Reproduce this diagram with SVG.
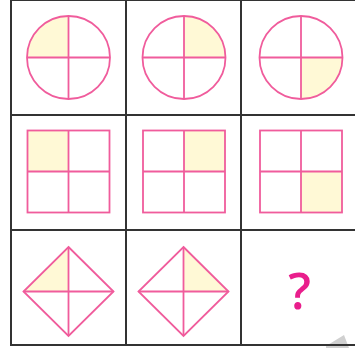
<svg xmlns="http://www.w3.org/2000/svg" width="355" height="348" viewBox="0 0 355 348">
  <style>
    .grid { stroke: #333333; stroke-width: 2; fill: none; }
    .shape { fill: none; stroke: #f05c9c; stroke-width: 1.8; }
    .shade { fill: #fff9d6; stroke: none; }
    .q { font-family: "Open Sans", "Liberation Sans", Arial, sans-serif; font-size: 50px; font-weight: 600; fill: #e91e8c; text-anchor: middle; }
  </style>
  <rect x="0" y="0" width="355" height="348" fill="#ffffff"/>
  <polygon points="326,346 344,335 349,348 326,348" fill="#d0d0d0"/>
  <g id="grid">
    <line class="grid" x1="11" y1="0" x2="355" y2="0"/>
    <line class="grid" x1="11" y1="115" x2="355" y2="115"/>
    <line class="grid" x1="11" y1="230" x2="355" y2="230"/>
    <line class="grid" x1="11" y1="345" x2="355" y2="345"/>
    <line class="grid" x1="11" y1="0" x2="11" y2="346" stroke="#555555"/>
    <line class="grid" x1="126" y1="0" x2="126" y2="346"/>
    <line class="grid" x1="241" y1="0" x2="241" y2="346"/>
  </g>
  <g id="circle1">
    <path class="shade" d="M68.5,57.5 L27,57.5 A41.5,41.5 0 0 1 68.5,16 Z"/>
    <circle class="shape" cx="68.5" cy="57.5" r="41.5"/>
    <line class="shape" x1="27" y1="57.5" x2="110" y2="57.5"/>
    <line class="shape" x1="68.5" y1="16" x2="68.5" y2="99"/>
  </g>
  <g id="circle2">
    <path class="shade" d="M184,57.5 L184,16 A41.5,41.5 0 0 1 225.5,57.5 Z"/>
    <circle class="shape" cx="184" cy="57.5" r="41.5"/>
    <line class="shape" x1="142.5" y1="57.5" x2="225.5" y2="57.5"/>
    <line class="shape" x1="184" y1="16" x2="184" y2="99"/>
  </g>
  <g id="circle3">
    <path class="shade" d="M301,57.5 L342.5,57.5 A41.5,41.5 0 0 1 301,99 Z"/>
    <circle class="shape" cx="301" cy="57.5" r="41.5"/>
    <line class="shape" x1="259.5" y1="57.5" x2="342.5" y2="57.5"/>
    <line class="shape" x1="301" y1="16" x2="301" y2="99"/>
  </g>
  <g id="square1">
    <rect class="shade" x="27.5" y="130.5" width="41" height="41"/>
    <rect class="shape" x="27.5" y="130.5" width="82" height="82"/>
    <line class="shape" x1="68.5" y1="130.5" x2="68.5" y2="212.5"/>
    <line class="shape" x1="27.5" y1="171.5" x2="109.5" y2="171.5"/>
  </g>
  <g id="square2">
    <rect class="shade" x="184" y="130.5" width="41" height="41"/>
    <rect class="shape" x="143" y="130.5" width="82" height="82"/>
    <line class="shape" x1="184" y1="130.5" x2="184" y2="212.5"/>
    <line class="shape" x1="143" y1="171.5" x2="225" y2="171.5"/>
  </g>
  <g id="square3">
    <rect class="shade" x="301" y="171.5" width="41" height="41"/>
    <rect class="shape" x="260" y="130.5" width="82" height="82"/>
    <line class="shape" x1="301" y1="130.5" x2="301" y2="212.5"/>
    <line class="shape" x1="260" y1="171.5" x2="342" y2="171.5"/>
  </g>
  <g id="diamond1">
    <polygon class="shade" points="23.5,291.5 68.5,247 68.5,291.5"/>
    <polygon class="shape" points="68.5,247 113.5,291.5 68.5,336 23.5,291.5"/>
    <line class="shape" x1="23.5" y1="291.5" x2="113.5" y2="291.5"/>
    <line class="shape" x1="68.5" y1="247" x2="68.5" y2="336"/>
  </g>
  <g id="diamond2">
    <polygon class="shade" points="183.5,247 228.5,291.5 183.5,291.5"/>
    <polygon class="shape" points="183.5,247 228.5,291.5 183.5,336 138.5,291.5"/>
    <line class="shape" x1="138.5" y1="291.5" x2="228.5" y2="291.5"/>
    <line class="shape" x1="183.5" y1="247" x2="183.5" y2="336"/>
  </g>
  <g id="question">
    <text class="q" x="299.5" y="309">?</text>
  </g>
</svg>
